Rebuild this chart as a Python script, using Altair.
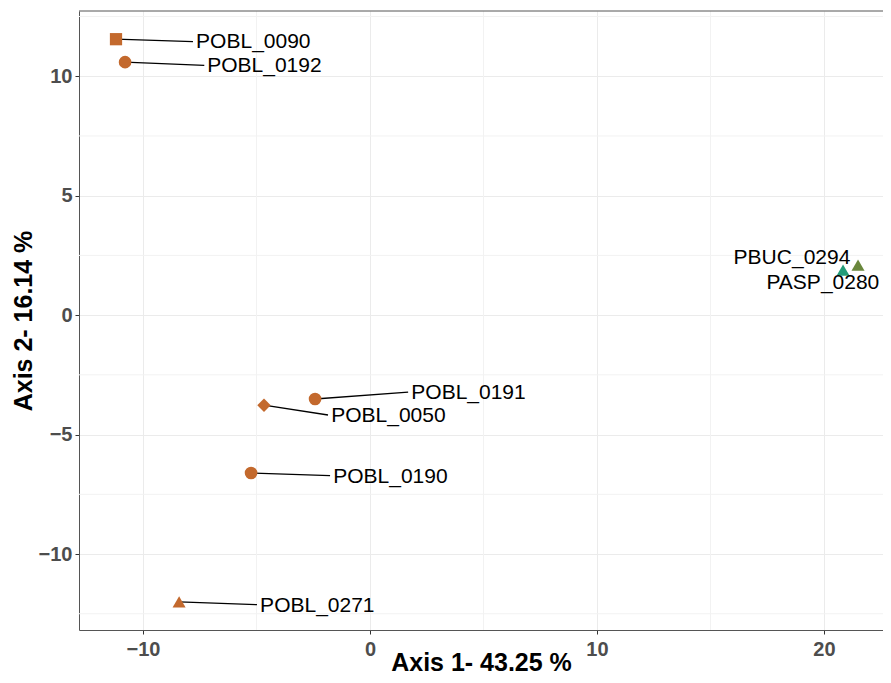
import altair as alt
import pandas as pd

# ---- data ----
names = ["POBL_0090", "POBL_0192", "PBUC_0294", "PASP_0280",
         "POBL_0191", "POBL_0050", "POBL_0190", "POBL_0271"]
groups = ["POBL", "POBL", "PBUC", "PASP", "POBL", "POBL", "POBL", "POBL"]
shapes = ["square", "circle", "triangle", "triangle",
          "circle", "diamond", "circle", "triangle"]
axis1 = [-11.19, -10.79, 20.84, 21.50, -2.42, -4.67, -5.24, -8.41]
axis2 = [11.55, 10.59, 1.88, 2.09, -3.51, -3.77, -6.61, -12.00]
# label (centre) positions, as placed by the repel algorithm
label_x = [-5.14, -4.65, 18.59, 19.95, 4.34, 0.81, 0.90, -2.32]
label_y = [11.42, 10.42, 2.38, 1.34, -3.26, -4.23, -6.78, -12.18]
# leader segment ends (None = no segment drawn)
seg_x = [-7.80, -7.30, None, None, 1.68, -1.85, -1.76, -4.98]
seg_y = [11.45, 10.45, None, None, -3.22, -4.18, -6.72, -12.12]

minor_x = [-5, 5, 15]
minor_y = [-12.5, -7.5, -2.5, 2.5, 7.5, 12.5]
x_ticks = [-10, 0, 10, 20]
y_ticks = [-10, -5, 0, 5, 10]

df = pd.DataFrame({
    "name": names, "group": groups, "shape": shapes,
    "x": axis1, "y": axis2,
    "lx": label_x, "ly": label_y,
    "sx": seg_x, "sy": seg_y,
})

W, H = 804, 619
xs = alt.Scale(domain=[-12.82, 22.60], nice=False, zero=False)
ys = alt.Scale(domain=[-13.18, 12.73], nice=False, zero=False)

base = alt.Chart(df)

minor_v = alt.Chart(pd.DataFrame({"v": minor_x})).mark_rule(
    color="#F2F2F2", strokeWidth=1).encode(x=alt.X("v:Q", scale=xs))
minor_h = alt.Chart(pd.DataFrame({"v": minor_y})).mark_rule(
    color="#F2F2F2", strokeWidth=1).encode(y=alt.Y("v:Q", scale=ys))

# top panel border (the right one lies outside the visible page in the reference)
top_border = alt.Chart(pd.DataFrame({"v": [0]})).mark_rule(
    color="#555555", strokeWidth=1).encode(
    x=alt.value(0), x2=alt.value(W), y=alt.value(0))

segments = base.transform_filter("isValid(datum.sx)").mark_rule(
    color="black", strokeWidth=1.3).encode(
    x=alt.X("x:Q", scale=xs), y=alt.Y("y:Q", scale=ys),
    x2="sx:Q", y2="sy:Q")

points = base.mark_point(filled=True, opacity=1).encode(
    x=alt.X("x:Q", scale=xs,
            axis=alt.Axis(title="Axis 1- 43.25 %", values=x_ticks,
                          titleBaseline="alphabetic", titleY=40)),
    y=alt.Y("y:Q", scale=ys,
            axis=alt.Axis(title="Axis 2- 16.14 %", values=y_ticks)),
    color=alt.Color("group:N", legend=None,
                    scale=alt.Scale(domain=["POBL", "PBUC", "PASP"],
                                    range=["#C3692D", "#239B78", "#69873C"])),
    shape=alt.Shape("shape:N", legend=None,
                    scale=alt.Scale(domain=["square", "circle", "triangle", "diamond"],
                                    range=["square", "circle", "triangle-up", "diamond"])),
    size=alt.Size("shape:N", legend=None,
                  scale=alt.Scale(domain=["square", "circle", "triangle", "diamond"],
                                  range=[150, 180, 280, 80])),
)

labels = base.mark_text(font="Liberation Sans", fontSize=21, color="black",
                        align="center", baseline="middle").encode(
    x=alt.X("lx:Q", scale=xs), y=alt.Y("ly:Q", scale=ys), text="name:N")

chart = alt.layer(minor_v, minor_h, top_border, segments, points, labels).properties(
    width=W, height=H,
    autosize=alt.AutoSizeParams(type="none"),
    padding={"left": 71, "top": 3, "right": 0, "bottom": 45},
).configure_view(
    stroke=None
).configure_axis(
    domain=True, domainColor="#555555", domainWidth=1,
    grid=True, gridColor="#EBEBEB", gridWidth=1,
    ticks=True, tickColor="#333333", tickSize=4, tickWidth=1,
    labelFont="Liberation Sans", labelFontSize=20, labelFontWeight="bold",
    labelColor="#4D4D4D",
    titleFont="Liberation Sans", titleFontSize=25, titleFontWeight="bold",
    titleColor="black",
).configure_axisX(
    labelPadding=5,
).configure_axisY(
    labelPadding=3, titlePadding=2,
)

chart.save("out.html", embed_options={"renderer": "svg", "actions": False})
